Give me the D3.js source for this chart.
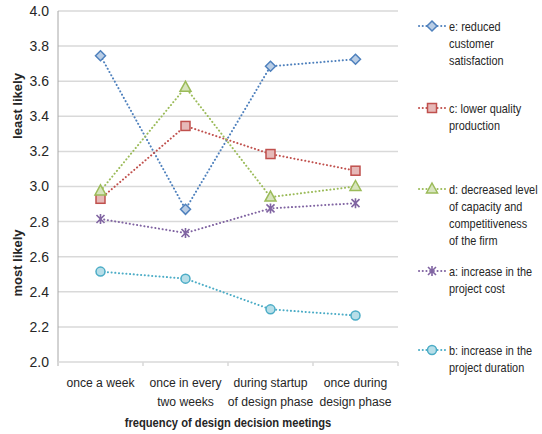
<!DOCTYPE html>
<html>
<head>
<meta charset="utf-8">
<script src="https://cdn.jsdelivr.net/npm/d3@7/dist/d3.min.js"></script>
<style>
  html, body { margin: 0; padding: 0; background: #fff; }
  text { font-family: "Liberation Sans", Arial, sans-serif; fill: #262626; }
</style>
</head>
<body>
<svg id="chart" width="542" height="434"></svg>
<script>
// Categories (frequency of design decision meetings)
const categories = [
  ["once a week"],
  ["once in every", "two weeks"],
  ["during startup", "of design phase"],
  ["once during", "design phase"]
];
const categoryKeys = ["once a week", "once in every two weeks", "during startup of design phase", "once during design phase"];

// Series values
const seriesE = [3.745, 2.87, 3.685, 3.725];
const seriesC = [2.93, 3.345, 3.185, 3.09];
const seriesD = [2.975, 3.565, 2.94, 3.00];
const seriesA = [2.815, 2.735, 2.875, 2.905];
const seriesB = [2.515, 2.475, 2.30, 2.265];

const seriesNames = [
  ["e: reduced", "customer", "satisfaction"],
  ["c: lower quality", "production"],
  ["d: decreased level", "of capacity and", "competitiveness", "of the firm"],
  ["a: increase in the", "project cost"],
  ["b: increase in the", "project duration"]
];

const yTicks = [2.0, 2.2, 2.4, 2.6, 2.8, 3.0, 3.2, 3.4, 3.6, 3.8, 4.0];

const series = [
  { values: seriesE, name: seriesNames[0], stroke: "#4f81bd", fill: "#b9cde5", symbol: "diamond" },
  { values: seriesC, name: seriesNames[1], stroke: "#c0504d", fill: "#e6b9b8", symbol: "square" },
  { values: seriesD, name: seriesNames[2], stroke: "#9bbb59", fill: "#d7e4bd", symbol: "triangle" },
  { values: seriesA, name: seriesNames[3], stroke: "#8064a2", fill: "#ccc1da", symbol: "star" },
  { values: seriesB, name: seriesNames[4], stroke: "#4bacc6", fill: "#b7dee8", symbol: "circle" }
];
const legendY = [26, 108, 189, 271, 350];

const svg = d3.select("#chart");
const plot = { left: 58, right: 398, top: 11, bottom: 362 };

const x = d3.scaleBand().domain(categoryKeys).range([plot.left, plot.right]);
const y = d3.scaleLinear().domain([2.0, 4.0]).range([plot.bottom, plot.top]);

// Multi-line text, horizontally condensed to a narrow face
function condensedText(px, py, lines, opts) {
  const t = svg.append("text")
    .attr("transform", `translate(${px},${py}) scale(${opts.sx},1)`)
    .attr("text-anchor", opts.anchor || "start")
    .attr("font-size", opts.size)
    .attr("font-weight", opts.weight || "normal");
  lines.forEach((ln, j) => t.append("tspan").attr("x", 0).attr("dy", j === 0 ? 0 : opts.lh).text(ln));
  return t;
}

// Horizontal gridlines
svg.append("g").selectAll("line").data(yTicks.slice(1)).join("line")
  .attr("x1", plot.left).attr("x2", plot.right)
  .attr("y1", d => y(d)).attr("y2", d => y(d))
  .attr("stroke", "#d9d9d9").attr("stroke-width", 1.5);

// Y axis
const yAxis = svg.append("g").attr("transform", `translate(${plot.left},0)`)
  .call(d3.axisLeft(y).tickValues(yTicks).tickFormat(d3.format(".1f")).tickSize(0).tickPadding(9));
yAxis.select(".domain").attr("stroke", "#a6a6a6").attr("d", `M0,${plot.bottom + 4}V${plot.top}`);
yAxis.selectAll("text").attr("font-size", 14).style("fill", "#262626")
  .style("font-family", '"Liberation Sans", sans-serif');

// X axis
const xAxis = svg.append("g").attr("transform", `translate(0,${plot.bottom})`)
  .call(d3.axisBottom(x).tickSize(0).tickFormat(""));
xAxis.select(".domain").attr("stroke", "#d9d9d9").attr("stroke-width", 1.5)
  .attr("d", `M${plot.left},0H${plot.right}`);
// tick marks at category boundaries
svg.append("g").selectAll("line")
  .data(categoryKeys.map(k => x(k)).concat([plot.right]))
  .join("line")
  .attr("x1", d => d).attr("x2", d => d)
  .attr("y1", plot.bottom).attr("y2", plot.bottom + 4)
  .attr("stroke", "#d9d9d9").attr("stroke-width", 1.5);

// Category labels
categoryKeys.forEach((k, i) => {
  condensedText(x(k) + x.bandwidth() / 2, 387, categories[i],
    { sx: 0.9, size: 13.5, anchor: "middle", lh: 19 });
});

// Axis titles
condensedText(228, 427, ["frequency of design decision meetings"],
  { sx: 0.86, size: 13, anchor: "middle", weight: "bold" });
svg.append("text").attr("transform", "translate(22,106) rotate(-90)").attr("text-anchor", "middle")
  .attr("font-size", 13).attr("font-weight", "bold").text("least likely");
svg.append("text").attr("transform", "translate(22,263) rotate(-90)").attr("text-anchor", "middle")
  .attr("font-size", 13).attr("font-weight", "bold").text("most likely");

// Marker drawing
function drawMarker(g, s, cx, cy) {
  if (s.symbol === "diamond") {
    g.append("path").attr("d", `M${cx},${cy - 5}L${cx + 5},${cy}L${cx},${cy + 5}L${cx - 5},${cy}Z`)
      .attr("fill", s.fill).attr("stroke", s.stroke).attr("stroke-width", 1.5);
  } else if (s.symbol === "square") {
    g.append("rect").attr("x", cx - 4.5).attr("y", cy - 4.5).attr("width", 9).attr("height", 9)
      .attr("fill", s.fill).attr("stroke", s.stroke).attr("stroke-width", 1.5);
  } else if (s.symbol === "triangle") {
    g.append("path").attr("d", `M${cx},${cy - 6}L${cx + 5.5},${cy + 4}L${cx - 5.5},${cy + 4}Z`)
      .attr("fill", s.fill).attr("stroke", s.stroke).attr("stroke-width", 1.5);
  } else if (s.symbol === "circle") {
    g.append("circle").attr("cx", cx).attr("cy", cy).attr("r", 4.5)
      .attr("fill", s.fill).attr("stroke", s.stroke).attr("stroke-width", 1.5);
  } else if (s.symbol === "star") {
    g.append("path").attr("d", `M${cx - 4},${cy - 4}L${cx + 4},${cy + 4}M${cx + 4},${cy - 4}L${cx - 4},${cy + 4}M${cx},${cy - 5}V${cy + 5}`)
      .attr("fill", "none").attr("stroke", s.stroke).attr("stroke-width", 1.6);
  }
}

const line = d3.line()
  .x((d, i) => x(categoryKeys[i]) + x.bandwidth() / 2)
  .y(d => y(d));

series.forEach((s, si) => {
  const g = svg.append("g");
  g.append("path").attr("d", line(s.values)).attr("fill", "none")
    .attr("stroke", s.stroke).attr("stroke-width", 2)
    .attr("stroke-dasharray", "0.1,3.6").attr("stroke-linecap", "round");
  s.values.forEach((v, i) => drawMarker(g, s, x(categoryKeys[i]) + x.bandwidth() / 2, y(v)));

  // Legend entry
  const ly = legendY[si];
  const lg = svg.append("g");
  lg.append("line").attr("x1", 419).attr("x2", 446).attr("y1", ly).attr("y2", ly)
    .attr("stroke", s.stroke).attr("stroke-width", 2)
    .attr("stroke-dasharray", "0.1,3.6").attr("stroke-linecap", "round");
  drawMarker(lg, s, 432, ly);
  condensedText(449, ly + 4.5, s.name, { sx: 0.84, size: 13, lh: 17.2 });
});
</script>
</body>
</html>
